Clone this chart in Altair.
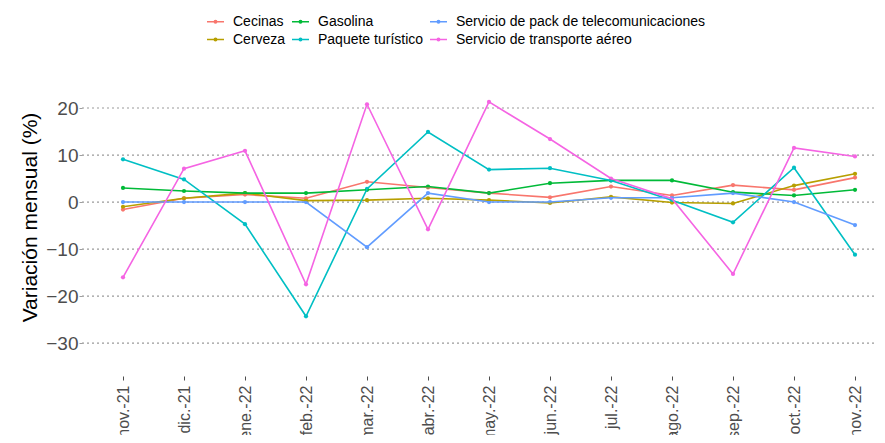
import altair as alt
import pandas as pd

months = ["nov.-21", "dic.-21", "ene.-22", "feb.-22", "mar.-22", "abr.-22", "may.-22",
          "jun.-22", "jul.-22", "ago.-22", "sep.-22", "oct.-22", "nov.-22"]

cecinas = [-1.6, 0.8, 1.6, 0.8, 4.3, 3.1, 1.9, 1.0, 3.3, 1.4, 3.6, 2.6, 5.2]
cerveza = [-1.0, 0.8, 1.9, 0.3, 0.4, 0.8, 0.4, -0.2, 1.1, -0.1, -0.3, 3.5, 6.0]
gasolina = [3.0, 2.35, 1.9, 1.9, 2.6, 3.3, 1.9, 4.0, 4.6, 4.6, 2.1, 1.4, 2.6]
paquete = [9.1, 4.8, -4.7, -24.3, 2.8, 14.9, 6.9, 7.2, 4.6, 0.4, -4.3, 7.3, -11.2]
pack = [0.0, 0.0, 0.0, 0.0, -9.6, 1.9, 0.0, 0.0, 0.9, 0.9, 1.9, 0.0, -4.9]
transporte = [-16.0, 7.1, 10.9, -17.5, 20.8, -5.8, 21.3, 13.4, 5.0, 0.7, -15.3, 11.5, 9.7]

series = {
    "Cecinas": cecinas,
    "Cerveza": cerveza,
    "Gasolina": gasolina,
    "Paquete turístico": paquete,
    "Servicio de pack de telecomunicaciones": pack,
    "Servicio de transporte aéreo": transporte,
}

legend_order = ["Cecinas", "Cerveza", "Gasolina", "Paquete turístico",
                "Servicio de pack de telecomunicaciones", "Servicio de transporte aéreo"]
legend_colors = ["#F8766D", "#B79F00", "#00BA38", "#00BFC4", "#619CFF", "#F564E3"]

y_ticks = [-30, -20, -10, 0, 10, 20]

rows = []
for name, vals in series.items():
    for m, v in zip(months, vals):
        rows.append({"mes": m, "serie": name, "valor": v})
df = pd.DataFrame(rows)
grid_df = pd.DataFrame({"valor": y_ticks})

FONT = "Liberation Sans"

sym_path = ("M-1,0H1 "
            "M-0.14,0A0.14,0.14,0,1,0,0.14,0A0.14,0.14,0,1,0,-0.14,0Z")

y_scale = alt.Scale(domain=[-37, 30], nice=False, zero=False)

x_enc = alt.X("mes:N", sort=months,
              scale=alt.Scale(type="point", range=[41, 773], padding=0),
              axis=alt.Axis(title=None, labelAngle=-90, labelFontSize=16, labelFont=FONT,
                            labelColor="#4d4d4d", tickColor="#4d4d4d", tickSize=4,
                            labelPadding=5, domain=False, grid=False))
y_enc = alt.Y("valor:Q", scale=y_scale,
              axis=alt.Axis(title="Variación mensual (%)", values=y_ticks,
                            labelFontSize=19, labelFont=FONT, labelColor="#4d4d4d",
                            tickColor="#9e9e9e", tickSize=3, labelPadding=1,
                            domain=False, grid=False,
                            titleFont=FONT, titleFontSize=21, titleFontWeight="normal",
                            titleColor="#000000", titleX=-42, titleY=156,
                            titleBaseline="bottom", titleAngle=270))
color_enc = alt.Color("serie:N",
                      scale=alt.Scale(domain=legend_order, range=legend_colors),
                      legend=alt.Legend(title=None, orient="none", legendX=124, legendY=-49,
                                        columns=3, columnPadding=2, rowPadding=1,
                                        labelFont=FONT, labelFontSize=14, labelColor="#000000",
                                        labelOffset=8, symbolType=sym_path, symbolSize=289,
                                        symbolStrokeWidth=1.6, padding=0, labelLimit=400))

grid = alt.Chart(grid_df).mark_rule(color="#9a9a9a", strokeWidth=1.2, strokeDash=[2, 3]).encode(
    y=alt.Y("valor:Q", scale=y_scale), x=alt.value(0), x2=alt.value(810))
line = alt.Chart(df).mark_line(strokeWidth=1.6).encode(x=x_enc, y=y_enc, color=color_enc)
points = alt.Chart(df).mark_point(filled=True, size=18, opacity=1).encode(
    x=x_enc, y=y_enc, color=color_enc)

chart = alt.layer(grid, points, line).properties(
    width=795, height=315,
    padding={"left": 74, "top": 53, "right": 0, "bottom": 59},
    autosize=alt.AutoSizeParams(type="none"),
).configure(background="white").configure_view(stroke=None, strokeWidth=0)

chart.save("out.html", embed_options={"renderer": "svg", "actions": False})
